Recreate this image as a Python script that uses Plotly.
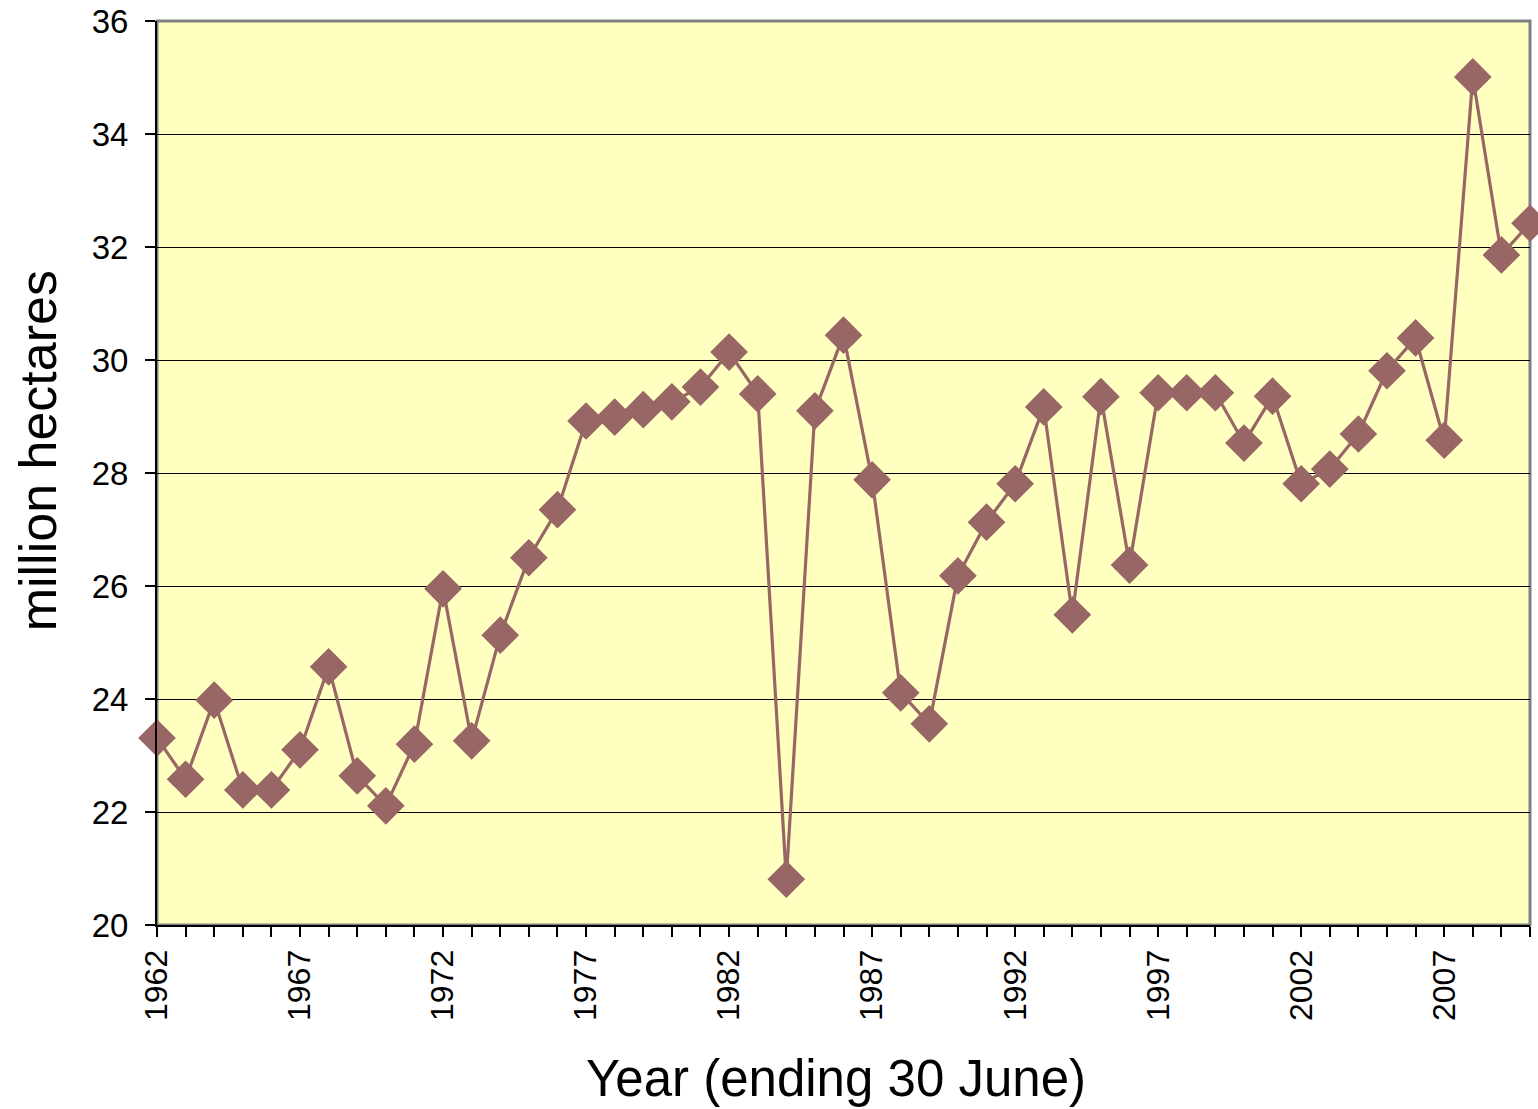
import plotly.graph_objects as go

years = list(range(1962, 2011))
hectares = [23.31, 22.58, 23.98, 22.39, 22.39, 23.10, 24.57, 22.64, 22.11, 23.20,
            25.95, 23.26, 25.13, 26.50, 27.35, 28.92, 28.99, 29.12, 29.26, 29.52,
            30.14, 29.40, 20.81, 29.10, 30.44, 27.88, 24.11, 23.56, 26.18, 27.13,
            27.81, 29.17, 25.49, 29.35, 26.37, 29.42, 29.42, 29.42, 28.53, 29.36,
            27.81, 28.07, 28.69, 29.81, 30.39, 28.58, 35.01, 31.86, 32.42]

x_title = "Year (ending 30 June)"
y_title = "million hectares"

FONT = "Liberation Sans, Arial, sans-serif"
COL = "#996666"

fig = go.Figure()
fig.add_trace(go.Scatter(
    x=years, y=hectares, mode="lines+markers",
    line=dict(color=COL, width=3.2),
    marker=dict(symbol="diamond", size=29, color=COL),
    cliponaxis=False, showlegend=False,
))

fig.add_shape(type="rect", xref="paper", yref="paper", x0=0, y0=0, x1=1, y1=1,
              line=dict(color="#808080", width=3), layer="below")

fig.add_annotation(text=y_title, xref="paper", yref="paper", x=0, y=0.524,
                   xshift=-119, xanchor="center", yanchor="middle",
                   textangle=-90, showarrow=False, font=dict(size=52))
fig.add_annotation(text=x_title, xref="paper", yref="paper", x=0.4945, y=0,
                   yshift=-153, xanchor="center", yanchor="middle",
                   showarrow=False, font=dict(size=51))

fig.update_layout(
    width=1538, height=1109,
    margin=dict(l=157, r=8, t=21, b=184, autoexpand=False),
    paper_bgcolor="white", plot_bgcolor="#FFFFC0",
    font=dict(family=FONT, color="black"),
    xaxis=dict(
        range=[1962, 2010], tick0=1962, dtick=5, tickangle=-90,
        ticks="outside", ticklen=10, tickwidth=1.5, tickcolor="black",
        tickfont=dict(size=32), showgrid=False, zeroline=False,
        showline=True, linecolor="black", linewidth=2, automargin=False,
        minor=dict(dtick=1, tick0=1962, ticks="outside", ticklen=10,
                   tickwidth=1.5, tickcolor="black", showgrid=False),
    ),
    yaxis=dict(
        range=[20, 36], dtick=2, tick0=20,
        ticks="outside", ticklen=10, tickwidth=1.5, tickcolor="black",
        tickfont=dict(size=33), showgrid=True, gridcolor="black", gridwidth=1,
        zeroline=False, showline=True, linecolor="black", linewidth=2,
        automargin=False, ticklabelstandoff=10,
    ),
)

fig.write_html("out.html", config={"displayModeBar": False},
               post_script="document.body.style.margin='0';")
